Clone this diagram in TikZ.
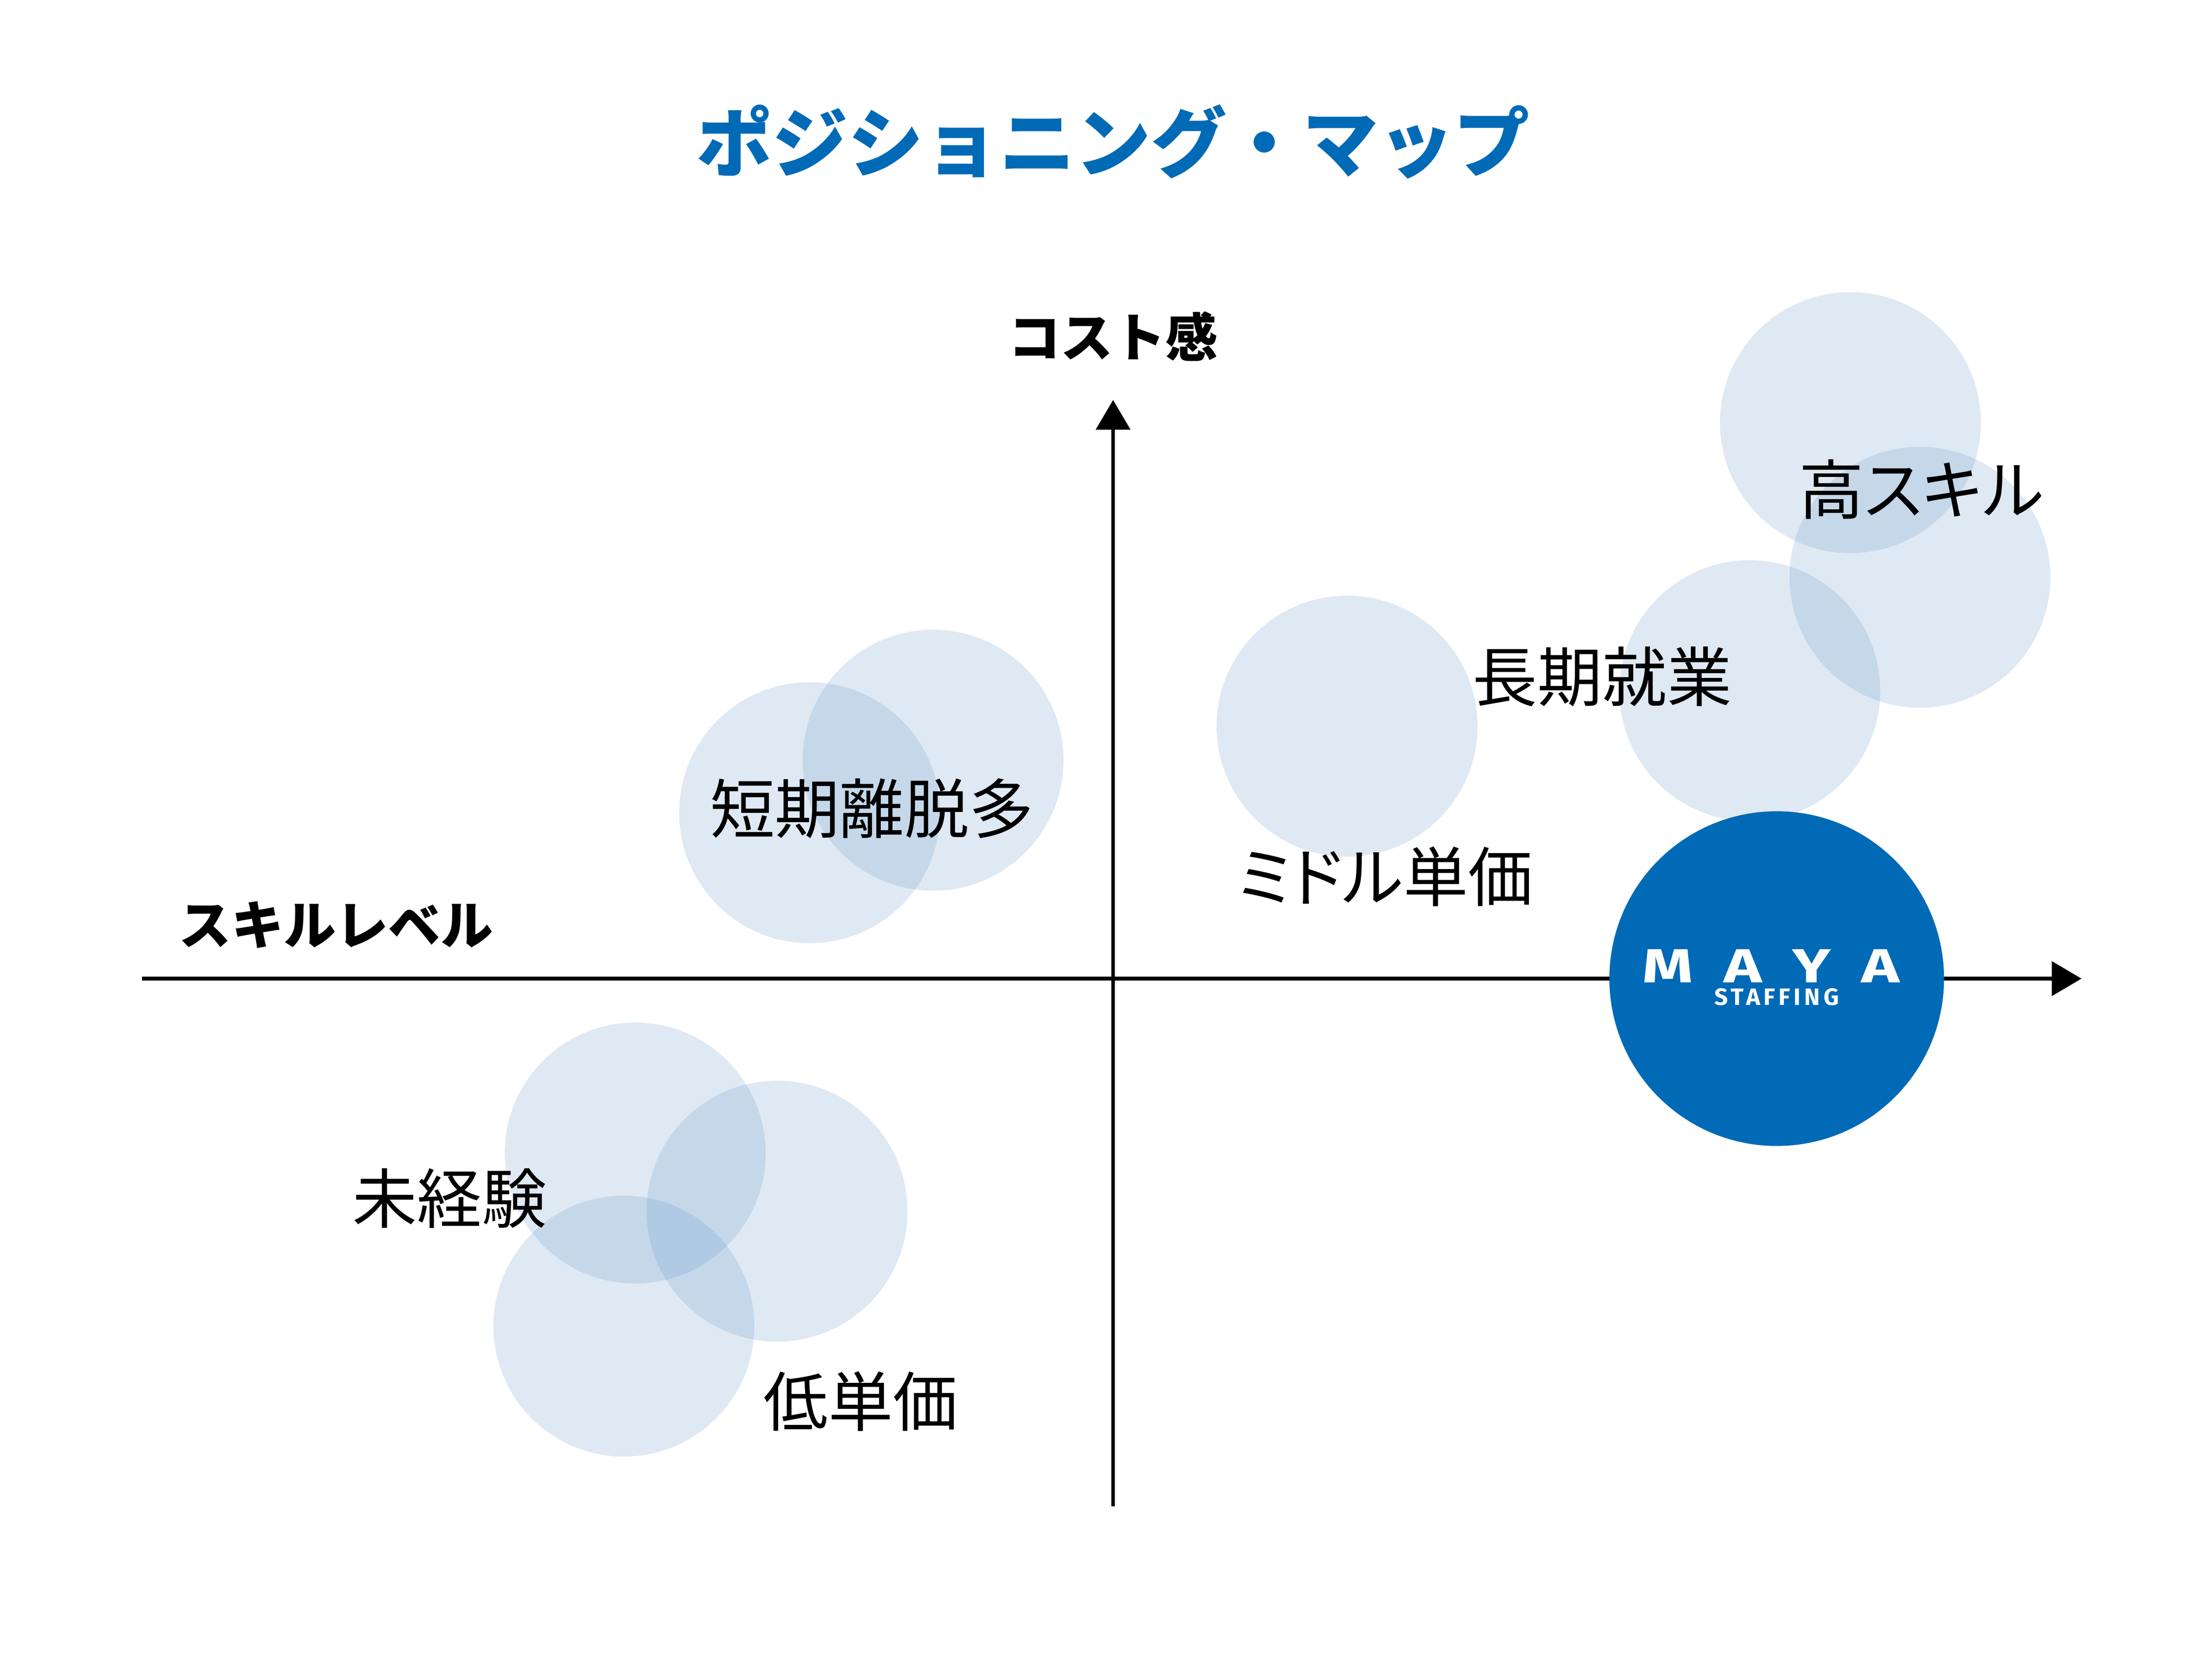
\documentclass[tikz,border=0pt]{standalone}
\usepackage{fontspec}
\setmainfont{Noto Sans CJK JP}
\newfontfamily\logofont{Fira Sans}
\usetikzlibrary{arrows.meta}

\definecolor{mayablue}{RGB}{0,106,182}
\definecolor{bubbleblue}{RGB}{95,147,198}

\tikzset{
  bubble/.style={circle,fill=bubbleblue,fill opacity=0.2,minimum size=18.4mm,inner sep=0pt},
  tag/.style={font=\addfontfeature{RawFeature=+palt}\fontsize{13}{15}\selectfont,inner sep=0pt},
  axislabel/.style={font=\bfseries\fontsize{10.5}{12}\selectfont,inner sep=0pt},
  axis/.style={line width=0.75pt,-{Triangle[length=2.1mm,width=2.4mm]}},
}

\begin{document}
\begin{tikzpicture}[x=0.1mm,y=-0.1mm]
        \useasboundingbox (0,0) rectangle (1560,1180);
        \node[font=\bfseries\fontsize{15.2}{18}\selectfont,text=mayablue,inner sep=0pt] (title) at (785,100) {ポジショニング・マップ};
        % axes
        \coordinate (x_0) at (100,690);
        \coordinate (x_1) at (1468,690);
        \coordinate (y_0) at (785,1062);
        \coordinate (y_1) at (785,282);
        \draw[axis] (x_0) -- (x_1);
        \draw[axis] (y_0) -- (y_1);
        \node[axislabel] (cost)  at (785,237) {コスト感};
        \node[axislabel] (skill) at (237,652) {スキルレベル};
        % bubbles
        \node[bubble] (b_1) at (571,573) {};
        \node[bubble] (b_2) at (658,536) {};
        \node[bubble] (b_3) at (950,512) {};
        \node[bubble] (b_4) at (1234,487) {};
        \node[bubble] (b_5) at (1305,298) {};
        \node[bubble] (b_6) at (1354,407) {};
        \node[bubble] (b_7) at (448,813) {};
        \node[bubble] (b_8) at (548,854) {};
        \node[bubble] (b_9) at (440,935) {};
        % labels
        \node[tag] (l_1) at (615,570)  {短期離脱多};
        \node[tag] (l_2) at (977,618)  {ミドル単価};
        \node[tag] (l_3) at (1130,477) {長期就業};
        \node[tag] (l_4) at (1355,345) {高スキル};
        \node[tag] (l_5) at (317,845)  {未経験};
        \node[tag] (l_6) at (607,988)  {低単価};
        % logo
        \node[circle,fill=mayablue,minimum size=23.6mm,inner sep=0pt] (maya) at (1253,690) {};
        \node[text=white,inner sep=0pt,font=\logofont\bfseries\fontsize{9.6}{10}\selectfont] (maya_1) at (1249,681)
          {\scalebox{1.35}[1]{M\hspace{1.6mm}A\hspace{1.6mm}Y\hspace{1.6mm}A}};
        \node[text=white,inner sep=0pt,font=\logofont\bfseries\addfontfeature{LetterSpace=15}\fontsize{4.75}{5}\selectfont] (maya_2) at (1253,703)
          {STAFFING};
\end{tikzpicture}
\end{document}
